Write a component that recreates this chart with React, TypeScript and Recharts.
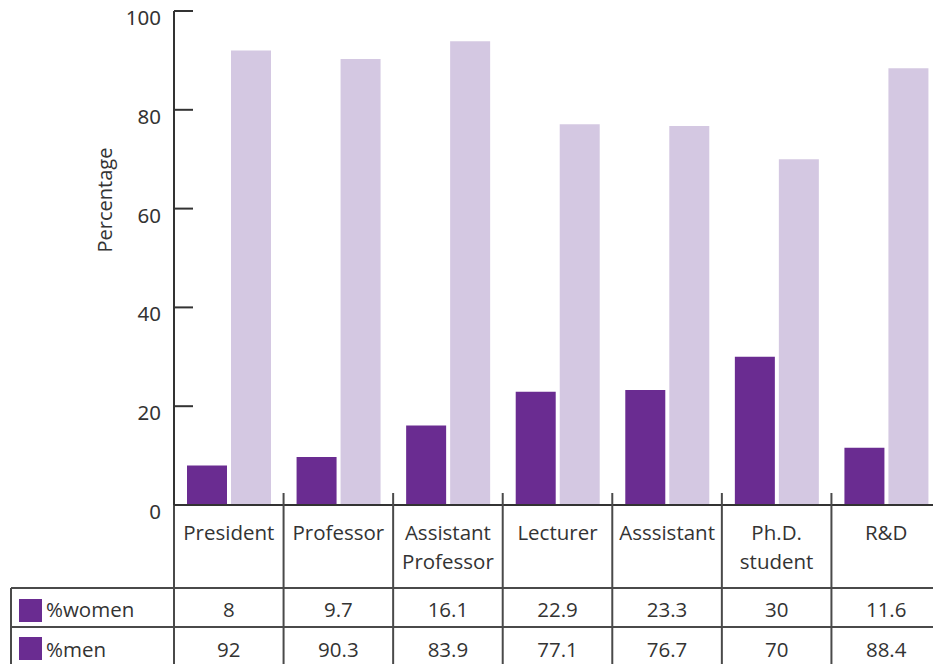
import { BarChart, Bar, XAxis, YAxis } from 'recharts';

// values
const categories = ['President', 'Professor', 'Assistant\nProfessor', 'Lecturer', 'Asssistant', 'Ph.D.\nstudent', 'R&D'];
const women = [8, 9.7, 16.1, 22.9, 23.3, 30, 11.6];
const men = [92, 90.3, 83.9, 77.1, 76.7, 70, 88.4];
// bar heights as drawn (the Assistant Professor bar stands at ~94, not the tabled 83.9)
const menBars = [92, 90.3, 93.9, 77.1, 76.7, 70, 88.4];
const yTicks = [0, 20, 40, 60, 80, 100];
const seriesNames = ['%women', '%men'];

const DARK = '#6a2c91';
const LIGHT = '#d4c8e2';
const INK = '#333333';
const RULE = '#4a4a4a';
const FONT = '"Open Sans", sans-serif';

const W = 950;
const H = 664;
const AXIS_W = 174;
const RIGHT = 9;
const TOP = 11;
const BOTTOM_H = 159;
const BAND = (W - AXIS_W - RIGHT) / categories.length;

const data = categories.map((name, i) => ({ name, women: women[i], men: menBars[i] }));

const textStyle = { fontFamily: FONT, fontSize: 20.5, fill: INK };

const YTick = (props: any) => {
  const { x, y, payload } = props;
  return (
    <g>
      <line x1={x + 13} x2={x + 32} y1={y} y2={y} stroke={INK} strokeWidth={2} />
      <text
        x={x}
        y={y + 14}
        textAnchor="end"
        style={{ fontFamily: '"Noto Sans", sans-serif', fontSize: 20.5, fill: INK }}
      >
        {payload.value}
      </text>
    </g>
  );
};

const XTick = (props: any) => {
  const { x, y, payload } = props;
  const index = props.index ?? payload.index;
  const lines = String(payload.value).split('\n');
  const left = x - BAND / 2;
  const right = x + BAND / 2;
  return (
    <g>
      <line x1={right} x2={right} y1={y - 12} y2={H} stroke={RULE} strokeWidth={2} />
      <line x1={left} x2={right} y1={y + 83} y2={y + 83} stroke={RULE} strokeWidth={2} />
      <line x1={left} x2={right} y1={y + 122} y2={y + 122} stroke={RULE} strokeWidth={2} />
      {lines.map((l, k) => (
        <text key={k} x={x} y={y + 35 + k * 29} textAnchor="middle" style={textStyle}>
          {l}
        </text>
      ))}
      <text x={x} y={y + 112} textAnchor="middle" style={textStyle}>{women[index]}</text>
      <text x={x} y={y + 152} textAnchor="middle" style={textStyle}>{men[index]}</text>
      {index === 0 && (
        <g>
          <line x1={left} x2={left} y1={y} y2={H} stroke={RULE} strokeWidth={2} />
          <line x1={11} x2={11} y1={y + 83} y2={H} stroke={RULE} strokeWidth={2} />
          <line x1={11} x2={left} y1={y + 83} y2={y + 83} stroke={RULE} strokeWidth={2} />
          <line x1={11} x2={left} y1={y + 122} y2={y + 122} stroke={RULE} strokeWidth={2} />
          <rect x={19} y={y + 94} width={23} height={23} fill={DARK} />
          <rect x={19} y={y + 132} width={23} height={23} fill={DARK} />
          <text x={46} y={y + 112} style={textStyle}>{seriesNames[0]}</text>
          <text x={46} y={y + 152} style={textStyle}>{seriesNames[1]}</text>
        </g>
      )}
    </g>
  );
};

const YLabel = () => (
  <text
    x={112}
    y={200}
    transform="rotate(-90 112 200)"
    textAnchor="middle"
    style={{ fontFamily: FONT, fontSize: 20, fill: INK }}
  >
    Percentage
  </text>
);

export default function App() {
  return (
    <div style={{ position: 'absolute', left: 0, top: 0, width: 933, height: 664, overflow: 'hidden', background: '#fff' }}>
      <BarChart
        width={W}
        height={H}
        data={data}
        margin={{ top: TOP, right: RIGHT, left: 0, bottom: 0 }}
        barCategoryGap={13}
        barGap={4}
      >
        <XAxis
          dataKey="name"
          height={BOTTOM_H}
          interval={0}
          tickLine={false}
          tickSize={0}
          tickMargin={0}
          axisLine={{ stroke: INK, strokeWidth: 2 }}
          tick={XTick}
        />
        <YAxis
          width={AXIS_W}
          domain={[0, 100]}
          ticks={yTicks}
          tickLine={false}
          tickSize={0}
          tickMargin={13}
          axisLine={{ stroke: INK, strokeWidth: 2 }}
          tick={YTick}
          label={{ content: YLabel }}
        />
        <Bar dataKey="women" name={seriesNames[0]} fill={DARK} isAnimationActive={false} />
        <Bar dataKey="men" name={seriesNames[1]} fill={LIGHT} isAnimationActive={false} />
      </BarChart>
    </div>
  );
}
